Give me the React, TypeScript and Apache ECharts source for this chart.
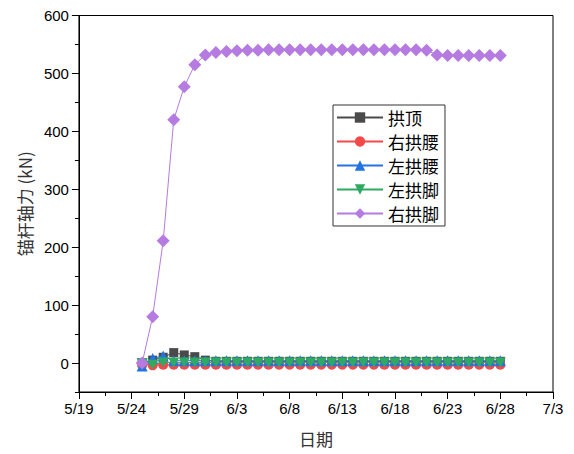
import React, { useEffect, useRef } from "react";
import * as echarts from "echarts";

const dates = [
  "5/25", "5/26", "5/27", "5/28", "5/29", "5/30", "5/31",
  "6/1", "6/2", "6/3", "6/4", "6/5", "6/6", "6/7", "6/8", "6/9", "6/10",
  "6/11", "6/12", "6/13", "6/14", "6/15", "6/16", "6/17", "6/18", "6/19", "6/20",
  "6/21", "6/22", "6/23", "6/24", "6/25", "6/26", "6/27", "6/28",
];

const gongDing = [0, 5, 10, 18, 14, 11, 5, 3, 3, 3, 3, 3, 3, 3, 3, 3, 3, 3, 3, 3, 3, 3, 3, 3, 3, 3, 3, 3, 3, 3, 3, 3, 3, 3, 3];
const youGongYao = [-2, -4, -3, -3, -3, -3, -3, -3, -3, -3, -3, -3, -3, -3, -3, -3, -3, -3, -3, -3, -3, -3, -3, -3, -3, -3, -3, -3, -3, -3, -3, -3, -3, -3, -3];
const zuoGongYao = [-5, 8, 12, 4, 4, 4, 4, 4, 4, 4, 4, 4, 4, 4, 4, 4, 4, 4, 4, 4, 4, 4, 4, 4, 4, 4, 4, 4, 4, 4, 4, 4, 4, 4, 4];
const zuoGongJiao = [0, -3, 1, 1, 1, 1, 1, 1, 1, 1, 1, 1, 1, 1, 1, 1, 1, 1, 1, 1, 1, 1, 1, 1, 1, 1, 1, 1, 1, 1, 1, 1, 1, 1, 1];
const youGongJiao = [0, 80, 211, 420, 477, 515, 532, 536, 538, 539, 540, 540, 541, 541, 541, 541, 541, 541, 541, 541, 541, 541, 541, 541, 541, 541, 541, 540, 532, 531, 531, 531, 531, 531, 531];

const seriesNames = ["拱顶", "右拱腰", "左拱腰", "左拱脚", "右拱脚"];
const seriesColors = ["#4a4a4a", "#f5484a", "#2474e0", "#2faa62", "#b57be0"];
const seriesSymbols = ["rect", "circle", "triangle", "path://M0,0 L20,0 L10,17 Z", "diamond"];
const seriesSizes: (number | number[])[] = [9, 10, 11, [11, 10], 13];
const seriesData = [gongDing, youGongYao, zuoGongYao, zuoGongJiao, youGongJiao];

const BASE = { year: 2023, month: 4, day: 19 };
const xMin = 0;
const xMax = 45;
const xInterval = 5;
const yMin = -50;
const yMax = 600;

function dayIndex(s: string): number {
  const [m, d] = s.split("/").map(Number);
  const t = Date.UTC(BASE.year, m - 1, d) - Date.UTC(BASE.year, BASE.month, BASE.day);
  return Math.round(t / 86400000);
}
function fmtDay(v: number): string {
  const dt = new Date(Date.UTC(BASE.year, BASE.month, BASE.day + Math.round(v)));
  return `${dt.getUTCMonth() + 1}/${dt.getUTCDate()}`;
}

const FONT = "'Liberation Sans', Arial, sans-serif";
const CJK = "'Noto Sans CJK SC', sans-serif";

export default function App() {
  const ref = useRef<HTMLDivElement>(null);
  useEffect(() => {
    if (!ref.current) return;
    const chart = echarts.init(ref.current, undefined, { renderer: "svg" });
    chart.setOption({
      animation: false,
      backgroundColor: "#fff",
      grid: {
        left: 69, right: 21, top: 5, bottom: 62,
        show: true, borderColor: "#000", borderWidth: 1, containLabel: false,
      },
      legend: {
        orient: "vertical",
        left: 325, top: 97,
        padding: [4, 6, 4, 3],
        itemWidth: 46, itemHeight: 13, itemGap: 7,
        borderColor: "#333", borderWidth: 1,
        textStyle: { fontFamily: CJK, fontSize: 17, color: "#000" },
        data: seriesNames,
      },
      xAxis: {
        type: "value",
        min: xMin, max: xMax, interval: xInterval,
        name: "日期",
        nameLocation: "middle",
        nameGap: 38,
        nameTextStyle: { fontFamily: CJK, fontSize: 17, color: "#333" },
        axisLine: { onZero: false, lineStyle: { color: "#000", width: 1 } },
        axisTick: { show: true, inside: false, length: 7, lineStyle: { color: "#000" } },
        minorTick: { show: true, splitNumber: 2, length: 4, lineStyle: { color: "#000" } },
        splitLine: { show: false },
        axisLabel: { fontFamily: FONT, fontSize: 15, color: "#000", margin: 9, formatter: (v: number) => fmtDay(v) },
      },
      yAxis: [
        {
          type: "value",
          min: yMin, max: yMax, splitNumber: 6,
          name: "锚杆轴力 (kN)",
          nameLocation: "middle",
          nameGap: 45,
          nameRotate: 90,
          nameTextStyle: { fontFamily: CJK, fontSize: 17, color: "#333" },
          axisLine: { onZero: false, lineStyle: { color: "#000", width: 1 } },
          axisTick: { show: true, inside: false, length: 7, lineStyle: { color: "#000" } },
          splitLine: { show: false },
          axisLabel: { fontFamily: FONT, fontSize: 15, color: "#000", margin: 10, showMinLabel: false },
        },
        {
          type: "value",
          position: "left",
          min: yMin, max: yMax, interval: 100,
          axisLine: { show: false, onZero: false },
          axisTick: { show: true, inside: false, length: 4, lineStyle: { color: "#000" } },
          splitLine: { show: false },
          axisLabel: { show: false },
        },
      ],
      series: seriesNames.map((name, i) => ({
        name,
        type: "line",
        yAxisIndex: 0,
        data: dates.map((d, j) => [dayIndex(d), seriesData[i][j]]),
        symbol: seriesSymbols[i],
        symbolSize: seriesSizes[i],
        showAllSymbol: true,
        itemStyle: { color: seriesColors[i], opacity: 1 },
        lineStyle: { color: seriesColors[i], width: 1 },
        z: 2 + i,
      })),
    });
    return () => chart.dispose();
  }, []);
  return <div ref={ref} style={{ width: 566, height: 446 }} />;
}
